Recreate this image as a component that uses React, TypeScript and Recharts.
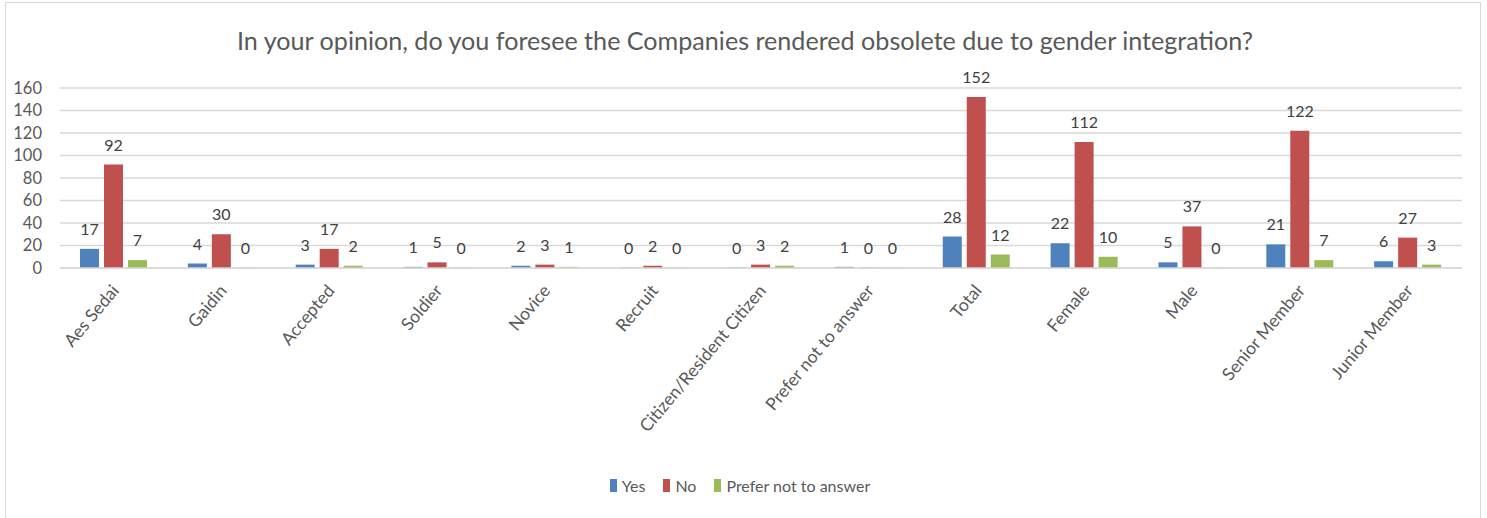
import { BarChart, Bar, XAxis, YAxis, CartesianGrid, Legend, LabelList } from 'recharts';

const categories = [
  'Aes Sedai', 'Gaidin', 'Accepted', 'Soldier', 'Novice', 'Recruit',
  'Citizen/Resident Citizen', 'Prefer not to answer', 'Total', 'Female',
  'Male', 'Senior Member', 'Junior Member',
];
const yesValues = [17, 4, 3, 1, 2, 0, 0, 1, 28, 22, 5, 21, 6];
const noValues = [92, 30, 17, 5, 3, 2, 3, 0, 152, 112, 37, 122, 27];
const preferValues = [7, 0, 2, 0, 1, 0, 2, 0, 12, 10, 0, 7, 3];
const yTicks = [0, 20, 40, 60, 80, 100, 120, 140, 160];

const series = [
  { key: 'Yes', color: '#4F81BD' },
  { key: 'No', color: '#C0504D' },
  { key: 'Prefer not to answer', color: '#9BBB59' },
];

const chartData = categories.map((name, i) => ({
  name,
  Yes: yesValues[i],
  No: noValues[i],
  'Prefer not to answer': preferValues[i],
}));

const FONT = 'Lato, "Open Sans", sans-serif';

function AngledTick(props: any) {
  const { x, y, payload } = props;
  return (
    <g transform={`translate(${x + 1},${y + 11})`}>
      <text
        transform="rotate(-50)"
        textAnchor="end"
        dominantBaseline="central"
        fontSize={17.5}
        fontFamily={FONT}
        fill="#595959"
      >
        {payload.value}
      </text>
    </g>
  );
}

function ValueLabel(props: any) {
  const { x, y, width, height, value } = props;
  if (value === undefined || value === null) return null;
  // zero-value bars get a tiny min size; anchor labels on the baseline
  const top = Number(y) + (Number(value) === 0 ? Number(height) : 0);
  return (
    <text
      x={Number(x) + Number(width) / 2}
      y={top - 14}
      textAnchor="middle"
      fontSize={16}
      fontFamily={FONT}
      fill="#404040"
    >
      {value}
    </text>
  );
}

function LegendBox() {
  return (
    <div style={{ display: 'flex', justifyContent: 'center', gap: 18, fontFamily: FONT, fontSize: 16, color: '#595959', height: 20, alignItems: 'center', paddingLeft: 8 }}>
      {series.map((s) => (
        <span key={s.key} style={{ display: 'flex', alignItems: 'center' }}>
          <span style={{ width: 7, height: 13, background: s.color, marginRight: 5, display: 'inline-block' }} />
          {s.key}
        </span>
      ))}
    </div>
  );
}

export default function App() {
  return (
    <div style={{ position: 'fixed', left: 0, top: 0, width: 1487, height: 518, background: '#fff' }}>
      <div style={{ position: 'absolute', left: 5, top: 2, width: 1476, height: 530, border: '1px solid #d9d9d9', boxSizing: 'border-box' }} />
      <svg width={1487} height={70} style={{ position: 'absolute', left: 0, top: 0 }}>
        <text
          x={745}
          y={50}
          textAnchor="middle"
          fontSize={25}
          fontFamily={FONT}
          fill="#595959"
          textLength={1016}
          lengthAdjust="spacingAndGlyphs"
        >
          In your opinion, do you foresee the Companies rendered obsolete due to gender integration?
        </text>
      </svg>
      <div style={{ position: 'absolute', left: 0, top: 0 }}>
        <BarChart
          width={1487}
          height={518}
          data={chartData}
          margin={{ top: 88, right: 25, bottom: 23, left: 10 }}
          barGap={5}
          barSize={19}
        >
          <CartesianGrid vertical={false} stroke="#d9d9d9" strokeWidth={1.5} />
          <XAxis
            dataKey="name"
            interval={0}
            height={207}
            tick={<AngledTick />}
            tickLine={false}
            axisLine={{ stroke: '#d9d9d9', strokeWidth: 1.5 }}
          />
          <YAxis
            width={50}
            domain={[0, 160]}
            ticks={yTicks}
            interval={0}
            tick={{ fontSize: 16.5, fill: '#595959', fontFamily: FONT }}
            tickLine={false}
            axisLine={false}
            tickMargin={12}
          />
          <Legend verticalAlign="bottom" content={() => <LegendBox />} />
          {series.map((s) => (
            <Bar key={s.key} dataKey={s.key} fill={s.color} minPointSize={0.3} isAnimationActive={false}>
              <LabelList dataKey={s.key} content={<ValueLabel />} />
            </Bar>
          ))}
        </BarChart>
      </div>
    </div>
  );
}
